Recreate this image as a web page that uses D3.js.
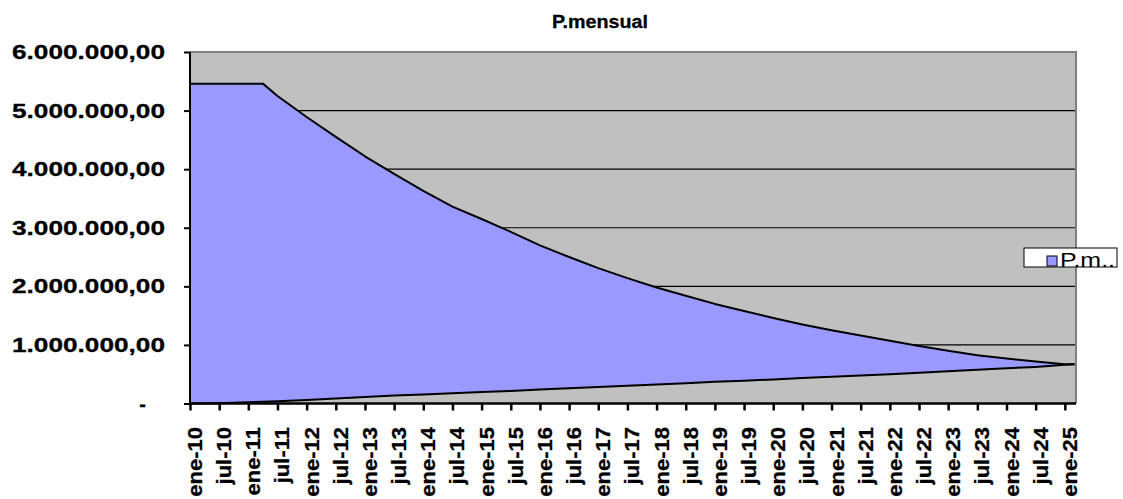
<!DOCTYPE html>
<html><head><meta charset="utf-8">
<script src="https://cdn.jsdelivr.net/npm/d3@7"></script>
<style>body{margin:0;background:#fff;}svg{display:block;}</style>
</head><body>
<svg id="c" width="1123" height="499"></svg>
<script>
const chartTitle = "P.mensual";
const seriesName = "P.m..";
// month index since ene-10
const months = [0,6,12,15,18,24,30,36,42,48,54,60,66,72,78,84,90,96,102,108,114,120,126,132,138,144,150,156,162,168,174,180,182];
const pagoMensual = [5460000,5460000,5460000,5460000,5250000,4890000,4550000,4220000,3920000,3630000,3360000,3150000,2930000,2700000,2500000,2310000,2140000,1980000,1840000,1700000,1580000,1460000,1350000,1250000,1160000,1070000,980000,900000,825000,770000,715000,670000,670000];
const baseSerie = [0,5000,20000,30000,40000,60000,85000,110000,135000,155000,175000,195000,215000,240000,260000,280000,305000,325000,345000,370000,390000,410000,435000,455000,480000,500000,525000,550000,575000,600000,625000,660000,670000];
const xTickMonths = [0,6,12,18,24,30,36,42,48,54,60,66,72,78,84,90,96,102,108,114,120,126,132,138,144,150,156,162,168,174,180];
const xTickLabels = ["ene-10","jul-10","ene-11","jul-11","ene-12","jul-12","ene-13","jul-13","ene-14","jul-14","ene-15","jul-15","ene-16","jul-16","ene-17","jul-17","ene-18","jul-18","ene-19","jul-19","ene-20","jul-20","ene-21","jul-21","ene-22","jul-22","ene-23","jul-23","ene-24","jul-24","ene-25"];
const yTicks = [0,1000000,2000000,3000000,4000000,5000000,6000000];
const yTickLabels = ["-","1.000.000,00","2.000.000,00","3.000.000,00","4.000.000,00","5.000.000,00","6.000.000,00"];

const svg = d3.select("#c");
const L = 190, R = 1076, T = 52, B = 403.5;
const x = d3.scaleLinear().domain([0, 182.3]).range([L, R]);
const y = d3.scaleLinear().domain([0, 6000000]).range([B, T]);
const font = "'Liberation Sans', Arial, sans-serif";

// plot background
svg.append("rect").attr("x", L).attr("y", T).attr("width", R - L).attr("height", B - T).attr("fill", "#C0C0C0");

// gridlines
svg.append("g").selectAll("line").data(yTicks.filter(d => d > 0 && d < 6000000)).join("line")
  .attr("x1", L).attr("x2", R).attr("y1", d => y(d)).attr("y2", d => y(d))
  .attr("stroke", "#000").attr("stroke-width", 1.2);

const data = months.map((m, i) => ({m, up: pagoMensual[i], lo: baseSerie[i]}));
const curve = d3.curveLinear;

svg.append("path").datum(data)
  .attr("d", d3.area().x(d => x(d.m)).y0(y(0)).y1(d => y(d.up)).curve(curve))
  .attr("fill", "#9999FF");
svg.append("path").datum(data)
  .attr("d", d3.area().x(d => x(d.m)).y0(y(0)).y1(d => y(d.lo)).curve(curve))
  .attr("fill", "#C0C0C0");
svg.append("path").datum(data)
  .attr("d", d3.line().x(d => x(d.m)).y(d => y(d.up)).curve(curve))
  .attr("fill", "none").attr("stroke", "#000").attr("stroke-width", 2).attr("stroke-linejoin", "round");
svg.append("path").datum(data)
  .attr("d", d3.line().x(d => x(d.m)).y(d => y(d.lo)).curve(curve))
  .attr("fill", "none").attr("stroke", "#000").attr("stroke-width", 2).attr("stroke-linejoin", "round");

// plot border (top/right gray)
svg.append("path").attr("d", `M${L},${T}H${R}V${B}`).attr("fill", "none").attr("stroke", "#808080").attr("stroke-width", 2);

// axes
const xAxis = d3.axisBottom(x).tickValues(xTickMonths).tickSize(7).tickFormat("");
const gx = svg.append("g").attr("transform", `translate(0,${B})`).call(xAxis);
gx.select(".domain").attr("stroke", "#000").attr("stroke-width", 2.5).attr("d", `M${L},0H${R}`);
gx.selectAll(".tick line").attr("stroke", "#000").attr("stroke-width", 2.5);

const yAxis = d3.axisLeft(y).tickValues(yTicks).tickSize(6).tickFormat("");
const gy = svg.append("g").attr("transform", `translate(${L},0)`).call(yAxis);
gy.select(".domain").attr("stroke", "#000").attr("stroke-width", 2).attr("d", `M0,${B}V${T}`);
gy.selectAll(".tick line").attr("stroke", "#000").attr("stroke-width", 2);

// y labels
svg.append("g").selectAll("text").data(yTicks).join("text")
  .attr("x", (d, i) => i === 0 ? 146 : 165)
  .attr("y", d => y(d) + 7)
  .attr("text-anchor", "end")
  .attr("font-family", font).attr("font-weight", "bold").attr("font-size", 20)
  .attr("fill", "#000").attr("stroke", "#000").attr("stroke-width", 0.3)
  .each(function(d, i) {
    const t = d3.select(this).text(yTickLabels[i]);
    if (i > 0) t.attr("textLength", 153).attr("lengthAdjust", "spacingAndGlyphs");
  });

// x labels
svg.append("g").selectAll("text").data(xTickMonths).join("text")
  .attr("transform", d => `translate(${x(d) + 12},427) rotate(-90)`)
  .attr("text-anchor", "end")
  .attr("font-family", font).attr("font-weight", "bold").attr("font-size", 20)
  .attr("fill", "#000").attr("stroke", "#000").attr("stroke-width", 0.3)
  .text((d, i) => xTickLabels[i])
  .each(function() {
    const w = this.getComputedTextLength();
    d3.select(this).attr("textLength", w * 1.1).attr("lengthAdjust", "spacingAndGlyphs");
  });

// title
svg.append("text").attr("x", 600).attr("y", 28).attr("text-anchor", "middle")
  .attr("font-family", font).attr("font-weight", "bold").attr("font-size", 18)
  .attr("fill", "#000").attr("stroke", "#000").attr("stroke-width", 0.3)
  .attr("textLength", 96).attr("lengthAdjust", "spacingAndGlyphs")
  .text(chartTitle);

// legend
const lg = svg.append("g");
lg.append("rect").attr("x", 1024).attr("y", 248).attr("width", 93).attr("height", 19)
  .attr("fill", "#fff").attr("stroke", "#000").attr("stroke-width", 1);
lg.append("rect").attr("x", 1047).attr("y", 256).attr("width", 10).attr("height", 10)
  .attr("fill", "#9999FF").attr("stroke", "#000").attr("stroke-width", 1);
lg.append("text").attr("x", 1060).attr("y", 267)
  .attr("font-family", font).attr("font-size", 20).attr("fill", "#000")
  .attr("textLength", 55).attr("lengthAdjust", "spacingAndGlyphs")
  .text(seriesName);
</script>
</body></html>
